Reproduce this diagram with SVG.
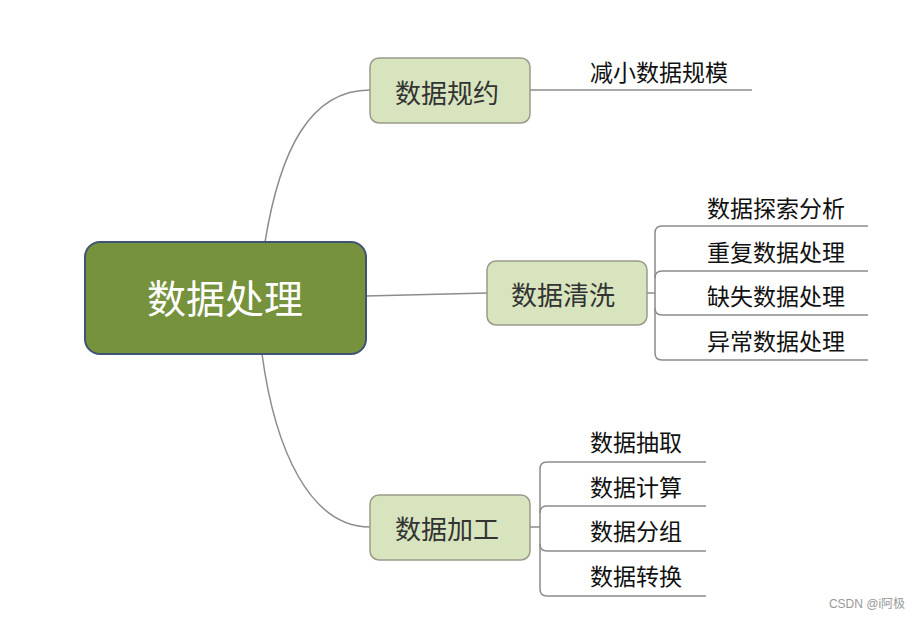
<svg xmlns="http://www.w3.org/2000/svg" width="921" height="619" viewBox="0 0 921 619">
<style>
text{font-family:"Noto Sans CJK SC","Noto Sans",sans-serif;text-anchor:middle;dominant-baseline:central}
.con{fill:none;stroke:#8c8c8c;stroke-width:1.5}
.sub rect{fill:#d7e4bd;stroke:#9a9a8a;stroke-width:1.5}
.sub text{font-size:26px;fill:#333}
.leaf{font-size:23px;fill:#111}
</style>
<rect width="921" height="619" fill="#fff"/>
<g id="connectors">
<path class="con" d="M265,242 C280,150 310,90 370,90"/>
<path class="con" d="M262,354 C275,450 310,527 370,527"/>
<path class="con" d="M366,296 L487,293"/>
<path class="con" d="M530,90 L752,90"/>
<path class="con" d="M647,293 L655,293"/>
<path class="con" d="M868,226 L662,226 Q655,226 655,233 L655,353 Q655,360 662,360 L868,360"/>
<path class="con" d="M868,271 L662,271 Q655,271 655,278"/>
<path class="con" d="M868,315 L662,315 Q655,315 655,308"/>
<path class="con" d="M530,527 L540,527"/>
<path class="con" d="M706,462 L547,462 Q540,462 540,469 L540,589 Q540,596 547,596 L706,596"/>
<path class="con" d="M706,506 L547,506 Q540,506 540,513"/>
<path class="con" d="M706,551 L547,551 Q540,551 540,544"/>
</g>
<g id="root">
<rect x="85" y="242" width="281" height="112" rx="15" fill="#76923c" stroke="#3f5474" stroke-width="2"/>
<text x="225" y="296" font-size="39" fill="#fff">数据处理</text>
</g>
<g id="n1" class="sub">
<rect x="370" y="58" width="160" height="65" rx="9"/>
<text x="447" y="91">数据规约</text>
</g>
<g id="n1a"><text class="leaf" x="659" y="71">减小数据规模</text></g>
<g id="n2" class="sub">
<rect x="487" y="261" width="160" height="64" rx="9"/>
<text x="563" y="293">数据清洗</text>
</g>
<g id="n2a"><text class="leaf" x="776" y="207">数据探索分析</text></g>
<g id="n2b"><text class="leaf" x="776" y="251">重复数据处理</text></g>
<g id="n2c"><text class="leaf" x="776" y="295">缺失数据处理</text></g>
<g id="n2d"><text class="leaf" x="776" y="340">异常数据处理</text></g>
<g id="n3" class="sub">
<rect x="370" y="495" width="160" height="65" rx="9"/>
<text x="447" y="527">数据加工</text>
</g>
<g id="n3a"><text class="leaf" x="636" y="441">数据抽取</text></g>
<g id="n3b"><text class="leaf" x="636" y="486">数据计算</text></g>
<g id="n3c"><text class="leaf" x="636" y="530">数据分组</text></g>
<g id="n3d"><text class="leaf" x="636" y="575">数据转换</text></g>
<text x="867" y="604" font-size="12" fill="#999" style="font-family:'Liberation Sans','Noto Sans CJK SC',sans-serif">CSDN @i阿极</text>
</svg>
